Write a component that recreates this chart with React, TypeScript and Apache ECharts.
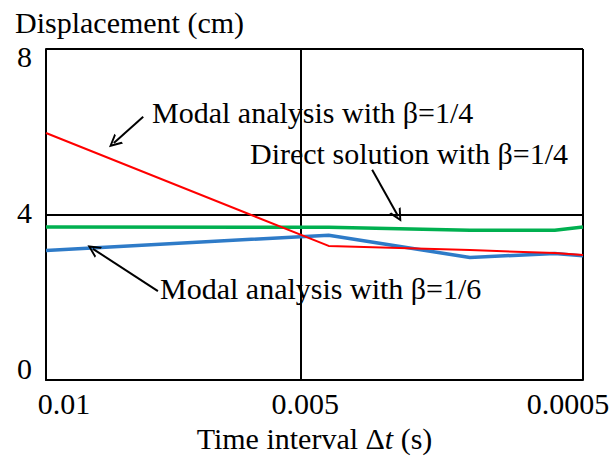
import React, { useEffect, useRef } from "react";
import * as echarts from "echarts";

// Time interval Δt (s) for each computed point
const dtValues = [0.01, 0.005, 0.0025, 0.001, 0.0005];
// Displacement (cm)
const modalSixth = [3.13, 3.5, 2.96, 3.06, 3.0];
const directQuarter = [3.7, 3.69, 3.62, 3.62, 3.7];
const modalQuarter = [5.97, 3.24, 3.14, 3.07, 3.02];

const seriesNames = [
  "Modal analysis with β=1/6",
  "Direct solution with β=1/4",
  "Modal analysis with β=1/4",
];
const seriesColors = ["#2E7BC8", "#00B050", "#FF0000"];

// tick labels of the reversed Δt axis (min, min + interval, max)
const xTickLabels = ["0.0005", "0.005", "0.01"];
const yTickLabels = ["0", "4", "8"];

// annotation arrows in data coordinates: [Δt, cm] tail -> head
const arrowTails = [
  [0.00828, 6.36],
  [0.00423, 5.08],
  [0.00802, 2.15],
];
const arrowHeads = [
  [0.0088, 5.73],
  [0.00377, 3.96],
  [0.00917, 3.17],
];

const FONT = '"Liberation Serif", "Times New Roman", serif';
const FS = 30;

export default function App() {
  const ref = useRef<HTMLDivElement>(null);

  useEffect(() => {
    if (!ref.current) return;
    const chart = echarts.init(ref.current, undefined, { renderer: "svg" });

    const mk = (vals: number[]) => dtValues.map((x, i) => [x, vals[i]]);
    const seriesData = [modalSixth, directQuarter, modalQuarter];
    const widths = [3.5, 3.5, 2];

    const series: any[] = seriesData.map((vals, i) => ({
      name: seriesNames[i],
      type: "line",
      data: mk(vals),
      symbol: "none",
      lineStyle: { color: seriesColors[i], width: widths[i] },
      z: 3 + i,
    }));

    series[2].markLine = {
      silent: true,
      animation: false,
      symbol: ["none", "path://M0,12 L6,0 L12,12 L10,12 L6,4 L2,12 Z"],
      symbolSize: 13,
      lineStyle: { color: "#000", width: 2, type: "solid" },
      label: { show: false },
      emphasis: { disabled: true },
      data: arrowTails.map((t, i) => [
        { coord: t },
        { coord: arrowHeads[i] },
      ]),
    };

    const base = { fontFamily: FONT, fontSize: FS, color: "#000" };
    const xRich: any = {
      t0: { ...base, padding: [0, 30, 0, 0] },
      t1: { ...base, padding: [0, 0, 0, 10] },
      t2: { ...base, padding: [0, 0, 0, 36] },
    };
    const yRich: any = {
      y0: { ...base, padding: [0, 0, 24, 0] },
      y1: { ...base, padding: [0, 0, 4, 0] },
      y2: { ...base, padding: [14, 0, 0, 0] },
    };
    const textStyle = (text: string) => ({
      text,
      font: `${FS}px ${FONT}`,
      fill: "#000",
      verticalAlign: "middle",
    });

    chart.setOption({
      animation: false,
      backgroundColor: "#fff",
      grid: {
        left: 46,
        right: 30,
        top: 49,
        bottom: 87,
        containLabel: false,
        outerBoundsMode: "none",
      },
      xAxis: {
        type: "value",
        inverse: true,
        min: 0.0005,
        max: 0.01,
        interval: 0.005,
        name: "Time interval Δ{i|t} (s)",
        nameLocation: "middle",
        nameGap: 43,
        nameTextStyle: {
          ...base,
          rich: { i: { ...base, fontStyle: "italic" } },
        },
        axisLine: { show: true, lineStyle: { color: "#000", width: 2 } },
        axisTick: { show: false },
        splitLine: { show: true, lineStyle: { color: "#000", width: 2 } },
        axisLabel: {
          margin: 8,
          showMinLabel: true,
          showMaxLabel: true,
          formatter: (v: number) => {
            const i = v < 0.002 ? 0 : v < 0.008 ? 1 : 2;
            return `{t${i}|${xTickLabels[i]}}`;
          },
          rich: xRich,
        },
      },
      yAxis: {
        type: "value",
        min: 0,
        max: 8,
        interval: 4,
        axisLine: { show: true, lineStyle: { color: "#000", width: 2 } },
        axisTick: { show: false },
        splitLine: { show: true, lineStyle: { color: "#000", width: 2 } },
        axisLabel: {
          margin: 14,
          showMinLabel: true,
          showMaxLabel: true,
          formatter: (v: number) => {
            const i = Math.round(v / 4);
            return `{y${i}|${yTickLabels[i]}}`;
          },
          rich: yRich,
        },
      },
      graphic: [
        {
          type: "text",
          x: 15,
          y: 22,
          style: textStyle("Displacement (cm)"),
        },
        { type: "text", x: 152, y: 112, style: textStyle(seriesNames[2]) },
        { type: "text", x: 250, y: 153, style: textStyle(seriesNames[1]) },
        { type: "text", x: 160, y: 288, style: textStyle(seriesNames[0]) },
      ],
      series,
    });

    return () => chart.dispose();
  }, []);

  return (
    <div
      ref={ref}
      style={{ position: "fixed", left: 0, top: 0, width: 613, height: 467 }}
    />
  );
}
